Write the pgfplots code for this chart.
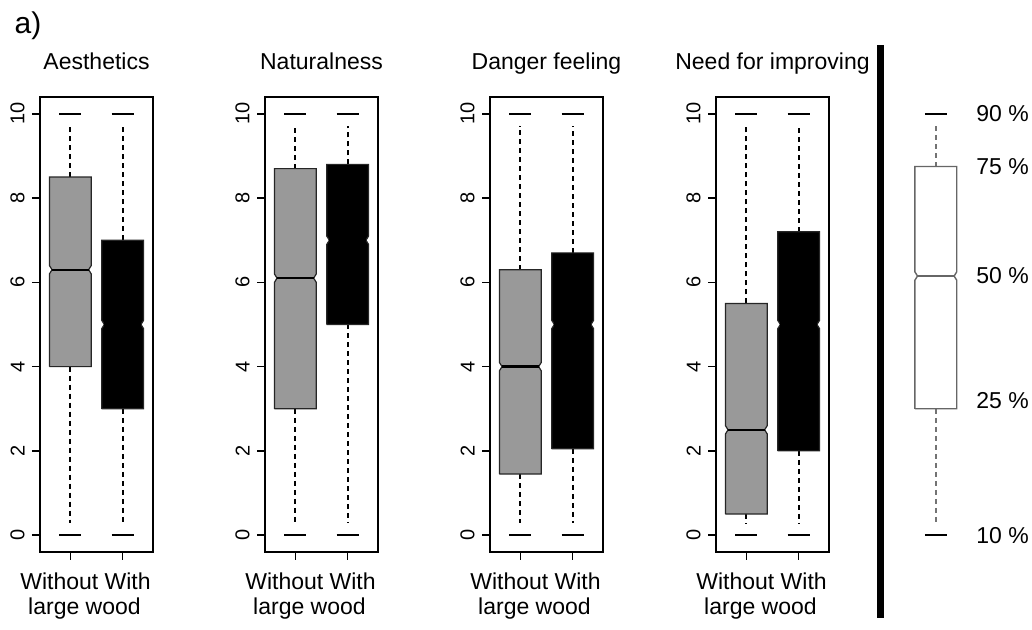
\documentclass[border=0pt]{standalone}
\usepackage{fontspec}
\setmainfont{Liberation Sans}
\usepackage{pgfplots}
\pgfplotsset{compat=1.18}

\definecolor{boxgray}{HTML}{999999}
\newcommand{\labfont}{\fontsize{11.5}{13}\selectfont}
\newcommand{\tickfont}{\fontsize{10}{11}\selectfont}

\pgfplotsset{
  whisk/.style={black, line width=0.9pt, dash pattern=on 2.5pt off 2pt},
  capl/.style={black, line width=1.3pt},
  panel/.style={
    anchor=south west, width=56.5pt, height=227.5pt, scale only axis,
    xmin=0.42, xmax=2.58, ymin=-0.4, ymax=10.4,
    xtick={1,2}, xticklabels={,}, ytick={0,2,4,6,8,10},
    tick align=outside, xtick pos=bottom, ytick pos=left,
    major tick length=4pt,
    every tick/.style={black, line width=0.7pt},
    axis line style={line width=0.7pt},
    yticklabel style={rotate=90, anchor=south, font=\tickfont, inner sep=3.5pt},
    /pgf/number format/assume math mode=true,
    title style={at={(0.5,1)}, anchor=base, yshift=7.5pt, font=\labfont},
    clip=false,
  },
}

% \nbox{x}{lower cap}{q1}{median}{q3}{upper cap}{fill}
\newcommand{\nbox}[7]{%
  \pgfmathsetmacro\xl{#1-0.4}\pgfmathsetmacro\xr{#1+0.4}%
  \pgfmathsetmacro\xnl{#1-0.35}\pgfmathsetmacro\xnr{#1+0.35}%
  \pgfmathsetmacro\ml{#4-0.1}\pgfmathsetmacro\mh{#4+0.1}%
  \pgfmathsetmacro\cl{#1-0.21}\pgfmathsetmacro\cr{#1+0.21}%
  \pgfmathsetmacro\wl{#2+0.28}\pgfmathsetmacro\wh{#6-0.28}%
  \addplot[whisk] coordinates {(#1,#5) (#1,\wh)};
  \addplot[whisk] coordinates {(#1,#3) (#1,\wl)};
  \addplot[capl] coordinates {(\cl,#6) (\cr,#6)};
  \addplot[capl] coordinates {(\cl,#2) (\cr,#2)};
  \addplot[boxline, fill=#7] coordinates {(\xl,#3) (\xr,#3) (\xr,\ml) (\xnr,#4) (\xr,\mh) (\xr,#5) (\xl,#5) (\xl,\mh) (\xnl,#4) (\xl,\ml) (\xl,#3)};
  \addplot[medline] coordinates {(\xnl,#4) (\xnr,#4)};
}
\pgfplotsset{boxline/.style={draw=black!85, line width=0.6pt}, medline/.style={black, line width=1.2pt}}
\newcommand{\xlabels}{%
  \node[anchor=base, font=\labfont] at (axis cs:1.29,-1.29) {Without With};
  \node[anchor=base, font=\labfont] at (axis cs:1.27,-1.88) {large wood};
}

\begin{document}
\begin{tikzpicture}
\useasboundingbox (0,0) rectangle (516pt,315pt);

\node[font=\fontsize{15}{17}\selectfont] at (14pt,302pt) {a)};

\begin{axis}[panel, at={(20pt,39pt)}, title={Aesthetics}]
  \nbox{1}{0}{4.0}{6.3}{8.5}{10}{boxgray}
  \nbox{2}{0}{3.0}{5.0}{7.0}{10}{black}
  \xlabels
\end{axis}

\begin{axis}[panel, at={(132.5pt,39pt)}, title={Naturalness}]
  \nbox{1}{0}{3.0}{6.1}{8.7}{10}{boxgray}
  \nbox{2}{0}{5.0}{7.0}{8.8}{10}{black}
  \xlabels
\end{axis}

\begin{axis}[panel, at={(245pt,39pt)}, title={Danger feeling}]
  \nbox{1}{0}{1.45}{4.0}{6.3}{10}{boxgray}
  \nbox{2}{0}{2.05}{5.0}{6.7}{10}{black}
  \xlabels
\end{axis}

\begin{axis}[panel, at={(358pt,39pt)}, title={Need for improving}]
  \nbox{1}{0}{0.5}{2.5}{5.5}{10}{boxgray}
  \nbox{2}{0}{2.0}{5.0}{7.2}{10}{black}
  \xlabels
\end{axis}

\draw[line width=3.5pt] (440pt,6pt) -- (440pt,292.5pt);

\begin{axis}[panel, at={(439.65pt,39pt)}, hide axis,
  whisk/.style={black!55, line width=0.9pt, dash pattern=on 2.5pt off 2pt},
  boxline/.style={draw=black!60, line width=0.7pt},
  medline/.style={black!60, line width=0.9pt}]
  \nbox{1.5}{0}{3.0}{6.15}{8.75}{10}{white}
  \node[anchor=west, font=\labfont] at (axis cs:2.14,10) {90 \%};
  \node[anchor=west, font=\labfont] at (axis cs:2.14,8.75) {75 \%};
  \node[anchor=west, font=\labfont] at (axis cs:2.14,6.15) {50 \%};
  \node[anchor=west, font=\labfont] at (axis cs:2.14,3.2) {25 \%};
  \node[anchor=west, font=\labfont] at (axis cs:2.14,0) {10 \%};
\end{axis}
\end{tikzpicture}
\end{document}
